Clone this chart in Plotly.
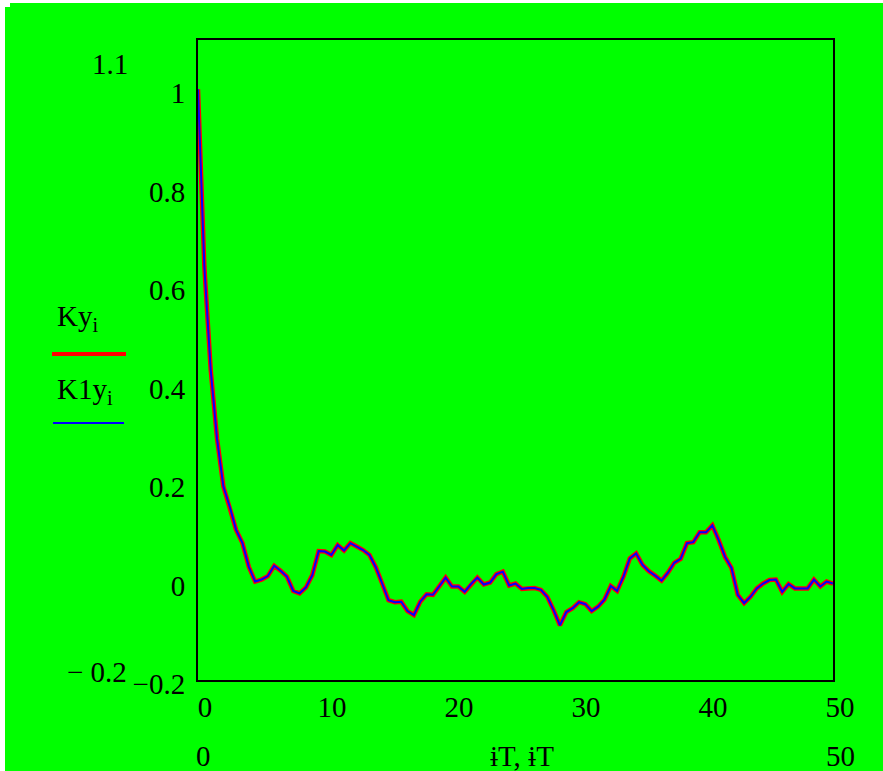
import plotly.graph_objects as go

T = 0.5
i_idx = list(range(101))
iT = [i * T for i in i_idx]

Ky = [1.0, 0.64, 0.43, 0.29, 0.193, 0.152, 0.105, 0.078, 0.030, 0.000,
      0.004, 0.011, 0.032, 0.022, 0.010, -0.019, -0.024, -0.012, 0.013, 0.062,
      0.061, 0.054, 0.074, 0.063, 0.078, 0.071, 0.064, 0.054, 0.029, -0.004,
      -0.038, -0.042, -0.041, -0.060, -0.068, -0.041, -0.026, -0.027, -0.009, 0.008,
      -0.010, -0.010, -0.021, -0.005, 0.008, -0.006, -0.002, 0.015, 0.020, -0.008,
      -0.004, -0.015, -0.013, -0.013, -0.017, -0.031, -0.058, -0.089, -0.062, -0.054,
      -0.042, -0.046, -0.060, -0.051, -0.037, -0.009, -0.019, 0.010, 0.047, 0.057,
      0.034, 0.021, 0.012, 0.002, 0.018, 0.038, 0.046, 0.078, 0.080, 0.100,
      0.100, 0.114, 0.084, 0.050, 0.028, -0.027, -0.044, -0.031, -0.014, -0.004,
      0.003, 0.004, -0.021, -0.005, -0.014, -0.014, -0.014, 0.004, -0.010, 0.000,
      -0.004]
K1y = list(Ky)

y_tickvals = [-0.2, 0, 0.2, 0.4, 0.6, 0.8, 1]
y_ticktext = ["\u22120.2", "0", "0.2", "0.4", "0.6", "0.8", "1"]
x_tickvals = [0, 10, 20, 30, 40, 50]
x_ticktext = ["0", "10", "20", "30", "40", "50"]

GREEN = "#00FF00"
FONT = "Liberation Serif, Times New Roman, serif"
FS = 29

W_FIG, H_FIG = 883, 771
L, R, TOP, B = 198, 833, 40, 680
PW, PH = R - L, B - TOP


def px(x):
    return (x - L) / PW


def py(y):
    return (B - y) / PH


fig = go.Figure()
fig.add_trace(go.Scatter(x=iT, y=Ky, mode="lines", name="Ky",
                         line=dict(color="#FF0000", width=4.5)))
fig.add_trace(go.Scatter(x=iT, y=K1y, mode="lines", name="K1y",
                         line=dict(color="#0000FF", width=2)))

annotations = [
    dict(text="1.1", x=px(110), y=py(64)),
    dict(text="\u2212 0.2", x=px(97), y=py(672)),
    dict(text="0", x=px(203), y=py(756)),
    dict(text="\u0268T, \u0268T", x=px(522), y=py(756)),
    dict(text="50", x=px(840), y=py(756)),
]
for a in annotations:
    a.update(xref="paper", yref="paper", showarrow=False,
             xanchor="center", yanchor="middle",
             font=dict(family=FONT, size=FS, color="black"))

annotations += [
    dict(text="Ky<sub>i</sub>", x=px(55), y=py(338), xref="paper", yref="paper",
         showarrow=False, xanchor="left", yanchor="bottom",
         font=dict(family=FONT, size=FS, color="black")),
    dict(text="K1y<sub>i</sub>", x=px(55), y=py(411), xref="paper", yref="paper",
         showarrow=False, xanchor="left", yanchor="bottom",
         font=dict(family=FONT, size=FS, color="black")),
]

shapes = [
    dict(type="line", xref="paper", yref="paper", x0=px(52), x1=px(126),
         y0=py(354), y1=py(354), line=dict(color="#FF0000", width=4)),
    dict(type="line", xref="paper", yref="paper", x0=px(53), x1=px(124),
         y0=py(423), y1=py(423), line=dict(color="#0000FF", width=2)),
    dict(type="rect", xref="paper", yref="paper", x0=px(0), x1=px(5),
         y0=py(771), y1=py(0), line=dict(width=0), fillcolor="white"),
    dict(type="rect", xref="paper", yref="paper", x0=px(0), x1=px(883),
         y0=py(3), y1=py(0), line=dict(width=0), fillcolor="white"),
    dict(type="rect", xref="paper", yref="paper", x0=px(0), x1=px(10),
         y0=py(7), y1=py(0), line=dict(width=0), fillcolor="white"),
]

fig.update_layout(
    width=W_FIG, height=H_FIG,
    margin=dict(l=L, r=W_FIG - R, t=TOP, b=H_FIG - B, autoexpand=False),
    paper_bgcolor=GREEN, plot_bgcolor=GREEN,
    showlegend=False,
    font=dict(family=FONT, size=FS, color="black"),
    annotations=annotations,
    shapes=shapes,
    xaxis=dict(range=[0, 50], tickvals=x_tickvals, ticktext=x_ticktext,
               showgrid=False, zeroline=False, ticks="",
               showline=True, mirror=True, linecolor="black", linewidth=2,
               ticklabelshift=7, ticklabelstandoff=0,
               tickfont=dict(family=FONT, size=FS, color="black")),
    yaxis=dict(range=[-0.2, 1.1], tickvals=y_tickvals, ticktext=y_ticktext,
               showgrid=False, zeroline=False, ticks="",
               showline=True, mirror=True, linecolor="black", linewidth=2,
               ticklabelshift=4, ticklabelstandoff=5,
               tickfont=dict(family=FONT, size=FS, color="black")),
)

fig.write_html("out.html", config={"displayModeBar": False},
               post_script="document.body.style.margin='0';")
